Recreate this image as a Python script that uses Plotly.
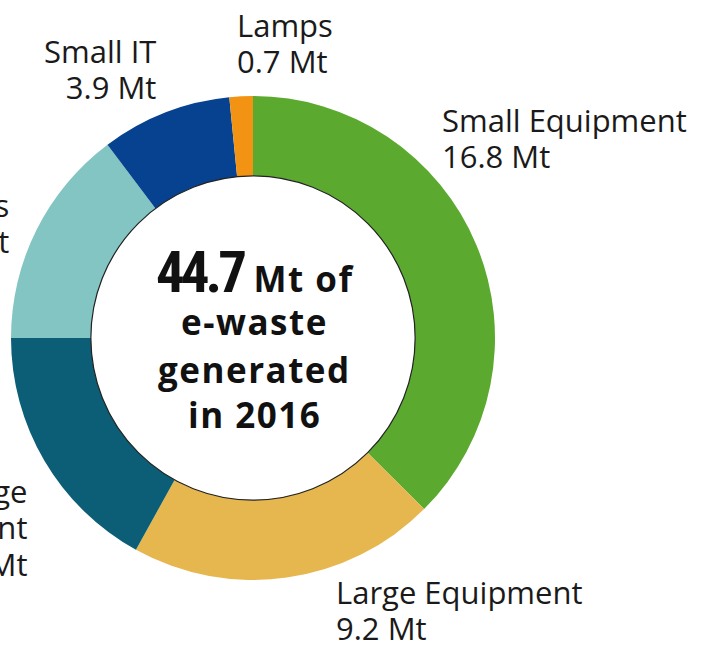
import plotly.graph_objects as go

W, H = 705, 650

categories = ["Small Equipment", "Large Equipment", "Temperature Exchange Equipment",
              "Screens & Monitors", "Small IT", "Lamps"]
values = [16.8, 9.2, 7.6, 6.6, 3.9, 0.7]
colors = ["#5BAA2F", "#E6B74E", "#0B5E75", "#82C5C3", "#06428F", "#F39313"]
label_lines = [["Small Equipment", "16.8 Mt"],
               ["Large Equipment", "9.2 Mt"],
               ["Temperature Exchange", "Equipment", "7.6 Mt"],
               ["Screens & Monitors", "6.6 Mt"],
               ["Small IT", "3.9 Mt"],
               ["Lamps", "0.7 Mt"]]
total_value = 44.7
center_year = 2016

# pixel geometry (page coordinates)
cx, cy, R = 253, 338, 242
hole = 0.67

def px(x):
    return x / W

def py(y):
    return 1 - y / H

fig = go.Figure()
fig.add_trace(go.Pie(
    labels=categories, values=values, sort=False, direction="clockwise",
    rotation=0, hole=hole, textinfo="none", hoverinfo="label+value",
    marker=dict(colors=colors, line=dict(width=0)),
    domain=dict(x=[px(cx - R), px(cx + R)], y=[py(cy + R), py(cy - R)]),
    showlegend=False,
))

# thin outline around the hole
r_in = R * hole
fig.add_shape(type="circle", xref="paper", yref="paper",
              x0=px(cx - r_in), x1=px(cx + r_in), y0=py(cy + r_in), y1=py(cy - r_in),
              line=dict(color="#222222", width=1.2), fillcolor="rgba(0,0,0,0)")

# outer labels: line spacing from annotation size 28, glyphs drawn at 31px
lab_font = dict(family="Open Sans, sans-serif", size=28, color="#1a1a1a")
label_pos = [(440, 138, "left"), (334, 609.5, "left"), (29, 527.5, "right"),
             (11, 222.5, "right"), (158, 69, "right"), (235, 43, "left")]
for lines, (x, y, anc) in zip(label_lines, label_pos):
    txt = "<br>".join(f"<span style='font-size:31px'>{t}</span>" for t in lines)
    fig.add_annotation(x=px(x), y=py(y), xref="paper", yref="paper",
                       text=txt, showarrow=False,
                       xanchor=anc, yanchor="middle", align=anc, font=lab_font)

# center text
fig.add_annotation(
    x=px(255), y=py(273), xref="paper", yref="paper", showarrow=False,
    xanchor="center", yanchor="middle",
    text=("<span style='font-family:\"Roboto Condensed\", \"Liberation Sans Narrow\", \"DejaVu Sans Condensed\", Roboto, sans-serif;"
          "font-stretch:condensed;letter-spacing:-4px;font-size:57px;font-weight:bold'>" + f"{total_value}" + "</span>"
          "<span style='letter-spacing:1.5px'> <b>Mt of</b></span>"),
    font=dict(family="Open Sans, sans-serif", size=35, color="#111111"))
center_lines = [("e-waste", 321), ("generated", 369), (f"in {center_year}", 414)]
for t, y in center_lines:
    fig.add_annotation(x=px(cx + 1), y=py(y), xref="paper", yref="paper", showarrow=False,
                       xanchor="center", yanchor="middle",
                       text=f"<span style='letter-spacing:1.5px'><b>{t}</b></span>",
                       font=dict(family="Open Sans, sans-serif", size=35, color="#111111"))

fig.update_layout(width=W, height=H, margin=dict(l=0, r=0, t=0, b=0),
                  paper_bgcolor="white", plot_bgcolor="white")
fig.write_html("out.html", config={"displayModeBar": False},
               post_script="document.body.style.margin='0';document.body.style.padding='0';")
